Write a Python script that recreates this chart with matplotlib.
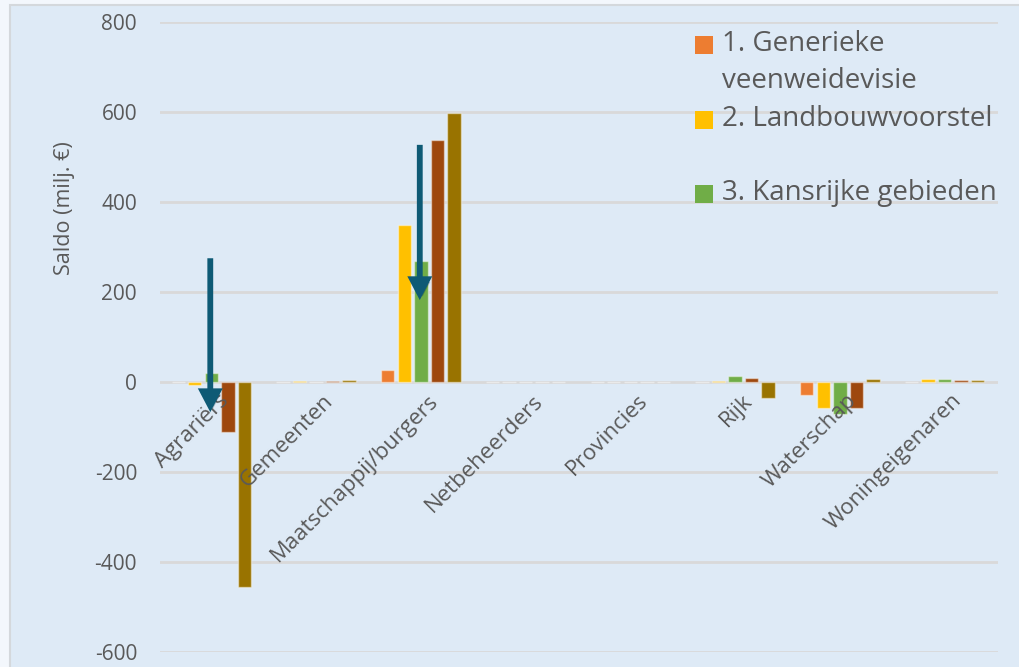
import matplotlib
matplotlib.use("Agg")
import matplotlib.pyplot as plt
import matplotlib.patheffects as pe
from matplotlib.patches import Rectangle
import numpy as np

plt.rcParams['font.family'] = ['Open Sans', 'DejaVu Sans']

categories = ["Agrariërs", "Gemeenten", "Maatschappij/burgers", "Netbeheerders",
              "Provincies", "Rijk", "Waterschap", "Woningeigenaren"]
series_names = ["1. Generieke\nveenweidevisie", "2. Landbouwvoorstel", "3. Kansrijke gebieden",
                "4.", "5."]
s1 = [-1, 0.5, 27, 0.5, 0.5, 0.5, -28, 0.5]
s2 = [-6, 2, 350, 0.5, 0.5, 2, -58, 7]
s3 = [20, 0.5, 270, 0.5, 0.5, 13, -70, 6]
s4 = [-112, 3, 537, 0.5, 0.5, 9, -58, 4]
s5 = [-455, 4, 597, 0.5, 0.5, -35, 7, 5]
series = [s1, s2, s3, s4, s5]
colors = ["#ED7D31", "#FFC000", "#70AD47", "#9E480E", "#997300"]
legend_count = 3
yticks = [-600, -400, -200, 0, 200, 400, 600, 800]
# arrows: (category index, start value, end value)
arrows = [(0, 275, -67), (2, 527, 182)]

W, H = 1020, 667
fig = plt.figure(figsize=(W / 100, H / 100), dpi=100)
fig.patch.set_facecolor("#F3F7FC")

bg = fig.add_axes([0, 0, 1, 1], zorder=-10)
bg.set_xlim(0, W)
bg.set_ylim(H, 0)
bg.axis('off')
bg.add_patch(Rectangle((10, 5), W + 20, H + 20, facecolor="#DEEAF6",
                       edgecolor="#D4D8DC", linewidth=1.5))

ax = fig.add_axes([160 / W, (H - 652) / H, (998 - 160) / W, (652 - 22) / H], zorder=1)
ax.set_facecolor("none")
x = np.arange(len(categories))
step = 0.158
bw = 0.128
for k, (vals, c) in enumerate(zip(series, colors)):
    ax.bar(x + (k - 2) * step - 0.01, vals, width=bw, color=c, edgecolor=(1, 1, 1, 0.45),
           linewidth=1.0, zorder=3)

ax.set_xlim(-0.5, len(categories) - 0.5)
ax.set_ylim(-600, 800)
ax.set_yticks(yticks)
ax.set_yticklabels([str(t) for t in yticks], fontsize=15, color="#595959")
ax.tick_params(axis='y', length=0, pad=16.5)
ax.set_xticks([])
for s in ax.spines.values():
    s.set_visible(False)
ax.grid(axis='y', color="#D9D9D9", linewidth=2, zorder=1)
ax.set_axisbelow(True)

for i, cat in enumerate(categories):
    ax.annotate(cat, xy=(i, 0), xytext=(4, -6), textcoords='offset points',
                rotation=45, rotation_mode='anchor', ha='right', va='top',
                fontsize=16, color="#595959", zorder=4)

for ci, y0, y1 in arrows:
    ax.annotate("", xy=(ci - 0.02, y1), xytext=(ci - 0.02, y0),
                arrowprops=dict(arrowstyle='-|>,head_width=0.55,head_length=1.05',
                                lw=4.2, color="#0E5A75", shrinkA=0, shrinkB=0,
                                capstyle='butt', joinstyle='miter',
                                path_effects=[pe.SimplePatchShadow(offset=(2, -2), alpha=0.25),
                                              pe.Normal()]),
                zorder=6)

fig.text(65 / W, 1 - 208 / H, "Saldo (milj. €)", rotation=90, ha='center', va='center',
         fontsize=15.5, color="#595959")

# legend (manual), drawn on an overlay so gridlines stay underneath
ov = fig.add_axes([0, 0, 1, 1], zorder=5)
ov.set_xlim(0, W)
ov.set_ylim(H, 0)
ov.axis('off')
leg_y = [45, 120, 194]
for k in range(legend_count):
    yc = leg_y[k]
    ov.add_patch(Rectangle((695, yc - 9), 18, 18, facecolor=colors[k], edgecolor='none'))
    ov.text(722, yc - 15, series_names[k], ha='left', va='top',
            fontsize=20, color="#595959", linespacing=1.45)

fig.savefig("out.png", dpi=100, facecolor=fig.get_facecolor())
